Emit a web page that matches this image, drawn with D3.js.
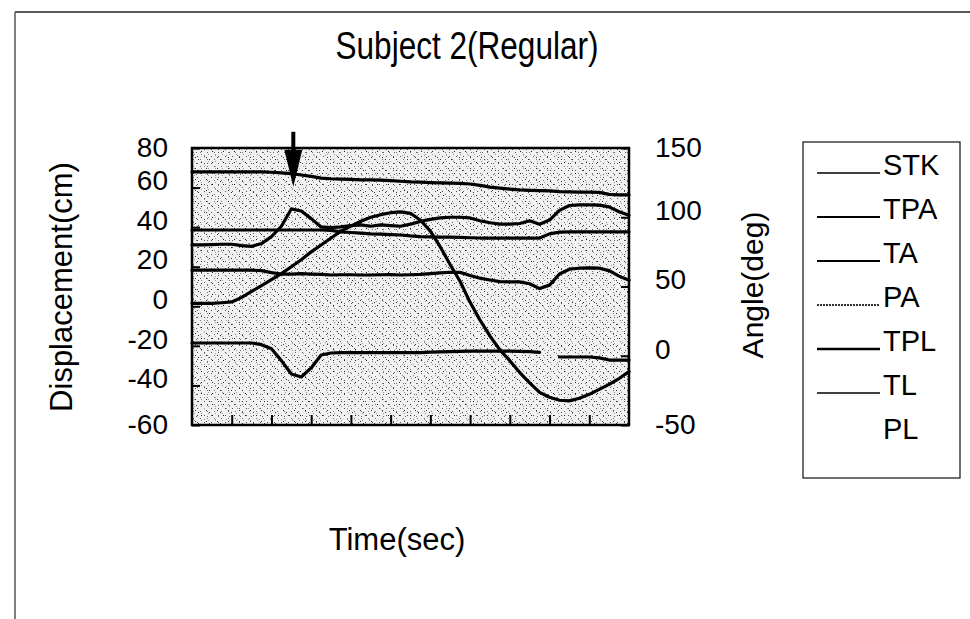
<!DOCTYPE html>
<html>
<head>
<meta charset="utf-8">
<script src="https://cdn.jsdelivr.net/npm/d3@7/dist/d3.min.js"></script>
<style>
  body { margin: 0; background: #fff; }
  svg { display: block; }
  text { font-family: "Liberation Sans", Arial, Helvetica, sans-serif; fill: #000; }
</style>
</head>
<body>
<svg id="chart" width="970" height="619"></svg>
<script>
// Sample times (sec, unlabelled axis) shared by every trace
const time = [0,0.25,0.5,0.75,1,1.25,1.5,1.75,2,2.25,2.5,2.75,3,3.25,3.5,3.75,4,4.25,4.5,4.75,
              5,5.25,5.5,5.75,6,6.25,6.5,6.75,7,7.25,7.5,7.75,8,8.25,8.5,8.75,9,9.25,9.5,9.75,
              10,10.25,10.5,10.75,11];

// Stroke displacement (cm), left axis
const stk = [1.5,1.5,1.5,1.8,2.2,4.5,7.5,10.5,13.5,16.5,20,23.5,27.5,31,34.5,38,40.5,43,45,46.3,
             47.3,47.7,47,43.5,38,30,21,12.5,2,-7,-15,-22,-27.5,-33.5,-38.7,-43.5,-46,-47.5,-47.8,-46.5,
             -44.5,-42,-39.5,-36.5,-33];

// Joint angles (deg), right axis
const tpa = [132.7,132.7,132.7,132.7,132.7,132.7,132.7,132.7,132.5,132,131.5,130.5,129.5,128.3,127.8,127.5,127.3,127,127,126.8,
             126.5,126,125.5,125.3,125,124.8,124.6,124.5,124,123,121.8,121,120.3,119.7,119.4,119.2,119,118.5,118.3,118.2,
             118.2,118,116.5,116.1,116.1];
const ta  = [80,80,80.2,80.5,80.5,79.5,79,81,86,93.5,106,104.5,99,93,92.5,93,94,94.5,93.5,94.5,
             94,93.5,95,97,98.5,99.5,100,100,99.5,97.5,96,95,95,95.5,97.5,95,98,105,108.5,109,
             109,108.8,107.5,104,101.5];
const pa  = [90.8,90.8,90.8,90.8,90.8,90.8,90.8,90.8,90.8,90.8,90.8,90.8,90.8,90.8,90.5,89.5,89,88.5,88,87.8,
             87.5,87.2,86.5,86,85.8,85.7,85.6,85.5,85.2,85,85,85,85,85,85,85,88,89.3,89.4,89.4,
             89.4,89.4,89.4,89.4,89.4];
const tpl = [61.8,61.8,61.8,61.8,61.8,61.8,61.8,61.5,60,59,59,59.3,59,58.8,58.3,58.5,58.5,58.3,58.3,58.5,
             58.6,58.3,58.5,58.8,59.3,59.8,60.3,60.2,58,56,54.7,53.5,53.3,53.3,52,48.5,51,59,62.5,63.2,
             63.4,63.2,61.5,57.5,54.5];
const tl  = [9.2,9.2,9.2,9.2,9.2,9.2,9.2,8,5,-3.5,-13.2,-15.3,-8.8,0.5,2,2.2,2.2,2.2,2.2,2.2,
             2.2,2.2,2.2,2.2,2.6,2.8,3.0,3.2,3.3,3.4,3.4,3.4,3.4,3.2,3.0,2.5,null,-0.9,-0.9,-0.9,
             -0.9,-1.5,-3.1,-3.1,-3.1];

// Axis tick values
const leftTicks  = [80,60,40,20,0,-20,-40,-60];
const rightTicks = [150,100,50,0,-50];
const timeTicks  = [1,2,3,4,5,6,7,8,9,10];

// Legend entries, top to bottom
const legendNames = ["STK","TPA","TA","PA","TPL","TL","PL"];

// Event marker (time, angle at arrow tip)
const markerTime = 2.55;
const markerTip = 122;

// ---------------------------------------------------------------
const svg = d3.select("#chart");
const plot = { left: 192, right: 629, top: 148, bottom: 425 };

const x  = d3.scaleLinear().domain([0, 11]).range([plot.left, plot.right]);
const yL = d3.scaleLinear().domain([-60, 80]).range([plot.bottom, plot.top]);
const yR = d3.scaleLinear().domain([-50, 150]).range([plot.bottom, plot.top]);

// stippled background texture
const defs = svg.append("defs");
const p1 = defs.append("pattern").attr("id", "stipA")
  .attr("width", 7).attr("height", 7).attr("patternUnits", "userSpaceOnUse");
p1.append("rect").attr("width", 7).attr("height", 7).attr("fill", "#f1f1f1");
[[1,2,"#555"],[4,5,"#777"],[5,0,"#999"]].forEach(([a,b,c]) =>
  p1.append("rect").attr("x", a).attr("y", b).attr("width", 1).attr("height", 1).attr("fill", c));
const p2 = defs.append("pattern").attr("id", "stipB")
  .attr("width", 11).attr("height", 11).attr("patternUnits", "userSpaceOnUse");
[[3,8,"#222"],[8,3,"#333"],[9,9,"#666"],[0,5,"#333"],[6,1,"#999"]].forEach(([a,b,c]) =>
  p2.append("rect").attr("x", a).attr("y", b).attr("width", 1).attr("height", 1).attr("fill", c));

// outer page frame
svg.append("line").attr("x1", 15).attr("y1", 12).attr("x2", 970).attr("y2", 12)
  .attr("stroke", "#222").attr("stroke-width", 1.5);
svg.append("line").attr("x1", 15).attr("y1", 12).attr("x2", 15).attr("y2", 619)
  .attr("stroke", "#555").attr("stroke-width", 1.5);

// title
svg.append("text").attr("x", 467).attr("y", 59).attr("text-anchor", "middle")
  .attr("font-size", 38).attr("textLength", 263).attr("lengthAdjust", "spacingAndGlyphs")
  .text("Subject 2(Regular)");

// plot background
svg.append("rect").attr("x", plot.left).attr("y", plot.top)
  .attr("width", plot.right - plot.left).attr("height", plot.bottom - plot.top)
  .attr("fill", "url(#stipA)");
svg.append("rect").attr("x", plot.left).attr("y", plot.top)
  .attr("width", plot.right - plot.left).attr("height", plot.bottom - plot.top)
  .attr("fill", "url(#stipB)");

// axes (ticks point inward, plain hyphen for negatives)
const plain = d => String(d);
const gL = svg.append("g").attr("transform", `translate(${plot.left},0)`)
  .call(d3.axisLeft(yL).tickValues(leftTicks).tickSize(-8).tickPadding(24).tickFormat(plain));
const gR = svg.append("g").attr("transform", `translate(${plot.right},0)`)
  .call(d3.axisRight(yR).tickValues(rightTicks).tickSize(-8).tickPadding(26).tickFormat(plain));
const gB = svg.append("g").attr("transform", `translate(0,${plot.bottom})`)
  .call(d3.axisBottom(x).tickValues(timeTicks).tickSize(-10).tickFormat(""));
[gL, gR, gB].forEach(g => {
  g.select(".domain").remove();
  g.selectAll(".tick line").attr("stroke", "#000").attr("stroke-width", 2);
  g.selectAll(".tick text").attr("font-size", 28).attr("font-family", null).attr("fill", "#000");
});
// interior value labels sit slightly above their ticks
[gL, gR].forEach(g => {
  const n = g.selectAll(".tick text").size();
  g.selectAll(".tick text").attr("dy", (d, i) => (i === 0 || i === n - 1) ? "0.3em" : "0.08em");
});

// traces
const series = [
  { name: "STK", values: stk, y: yL },
  { name: "TPA", values: tpa, y: yR },
  { name: "TA",  values: ta,  y: yR },
  { name: "PA",  values: pa,  y: yR },
  { name: "TPL", values: tpl, y: yR },
  { name: "TL",  values: tl,  y: yR }
];
series.forEach(s => {
  const line = d3.line()
    .defined(d => d[1] !== null)
    .x(d => x(d[0]))
    .y(d => s.y(d[1]));
  svg.append("path")
    .datum(time.map((t, i) => [t, s.values[i]]))
    .attr("d", line)
    .attr("fill", "none")
    .attr("stroke", "#000")
    .attr("stroke-width", 3.2)
    .attr("stroke-linejoin", "round")
    .attr("stroke-linecap", "round");
});

// plot frame
svg.append("rect").attr("x", plot.left).attr("y", plot.top)
  .attr("width", plot.right - plot.left).attr("height", plot.bottom - plot.top)
  .attr("fill", "none").attr("stroke", "#000").attr("stroke-width", 2.5);

// event arrow
const ax = x(markerTime), tipY = yR(markerTip);
svg.append("rect").attr("x", ax - 2).attr("y", tipY - 55).attr("width", 4).attr("height", 20).attr("fill", "#000");
svg.append("path")
  .attr("d", `M${ax - 9},${tipY - 37} L${ax + 9},${tipY - 37} L${ax},${tipY} Z`)
  .attr("fill", "#000");

// axis titles
svg.append("text").attr("transform", "translate(72,287) rotate(-90)")
  .attr("text-anchor", "middle").attr("font-size", 31).text("Displacement(cm)");
svg.append("text").attr("transform", "translate(763,285) rotate(-90)")
  .attr("text-anchor", "middle").attr("font-size", 30).text("Angle(deg)");
svg.append("text").attr("x", 397).attr("y", 550)
  .attr("text-anchor", "middle").attr("font-size", 31).text("Time(sec)");

// legend
const lg = svg.append("g");
lg.append("rect").attr("x", 803).attr("y", 142).attr("width", 157).attr("height", 336)
  .attr("fill", "#fff").attr("stroke", "#222").attr("stroke-width", 1.3);
const legendStyle = {
  STK: { w: 1.4, dash: null, c: "#000" },
  TPA: { w: 2.2, dash: null, c: "#000" },
  TA:  { w: 2.2, dash: null, c: "#000" },
  PA:  { w: 2.0, dash: "2 1", c: "#333" },
  TPL: { w: 2.4, dash: null, c: "#000" },
  TL:  { w: 1.6, dash: null, c: "#000" },
  PL:  null
};
legendNames.forEach((n, i) => {
  const yy = 165 + i * 44;
  const st = legendStyle[n];
  if (st) {
    lg.append("line").attr("x1", 817).attr("x2", 880).attr("y1", yy + 8).attr("y2", yy + 8)
      .attr("stroke", st.c).attr("stroke-width", st.w).attr("stroke-dasharray", st.dash);
  }
  lg.append("text").attr("x", 883).attr("y", yy).attr("dy", "0.35em")
    .attr("font-size", 29).text(n);
});
</script>
</body>
</html>
